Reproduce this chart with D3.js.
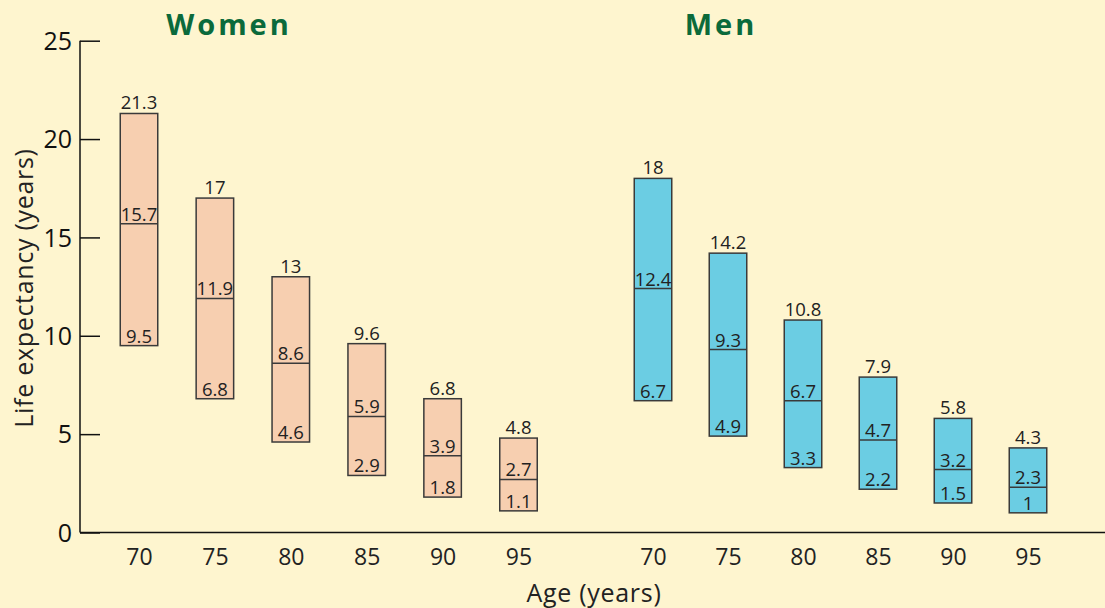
<!DOCTYPE html>
<html><head><meta charset="utf-8">
<script src="https://cdn.jsdelivr.net/npm/d3@7"></script>
<style>
html,body{margin:0;padding:0;background:#fef5cf;}
svg{display:block;font-family:"Open Sans","Noto Sans",sans-serif;}
</style></head>
<body><svg id="c" width="1105" height="608"></svg>
<script>
const ages = ["70","75","80","85","90","95"];
const womenHigh = [21.3, 17, 13, 9.6, 6.8, 4.8];
const womenMid  = [15.7, 11.9, 8.6, 5.9, 3.9, 2.7];
const womenLow  = [9.5, 6.8, 4.6, 2.9, 1.8, 1.1];
const menHigh = [18, 14.2, 10.8, 7.9, 5.8, 4.3];
const menMid  = [12.4, 9.3, 6.7, 4.7, 3.2, 2.3];
const menLow  = [6.7, 4.9, 3.3, 2.2, 1.5, 1];
const yTicks = [0, 5, 10, 15, 20, 25];

const svg = d3.select("#c");
const W = 1105, H = 608;
svg.append("rect").attr("width", W).attr("height", H).attr("fill", "#fef5cf");

const y = d3.scaleLinear().domain([0, 25]).range([532.5, 40.7]);
const xW = d3.scalePoint().domain(ages).range([139, 518.5]);
const xM = d3.scalePoint().domain(ages).range([653, 1028]);
const barW = 37.5;

// axes
const yAxis = d3.axisLeft(y).tickValues(yTicks).tickSizeInner(-20).tickSizeOuter(0).tickPadding(8);
const gy = svg.append("g").attr("transform", "translate(80,0)").call(yAxis);
gy.select(".domain").attr("stroke", "#111").attr("stroke-width", 1.5).attr("d", `M0,${y(25)}V${y(0)}`);
gy.selectAll(".tick line").attr("stroke", "#111").attr("stroke-width", 1.5);
gy.selectAll(".tick text").attr("font-size", 25).attr("fill", "#111").attr("font-family", "Open Sans, Noto Sans, sans-serif").attr("dy", "0.35em");

svg.append("line").attr("x1", 80).attr("x2", W).attr("y1", y(0)).attr("y2", y(0))
  .attr("stroke", "#111").attr("stroke-width", 1.5);

function xTicks(scale) {
  const ax = d3.axisBottom(scale).tickSize(0).tickPadding(16);
  const g = svg.append("g").attr("transform", `translate(0,${y(0)})`).call(ax);
  g.select(".domain").remove();
  g.selectAll(".tick text").attr("font-size", 23).attr("fill", "#222").attr("font-family", "Open Sans, Noto Sans, sans-serif");
}
xTicks(xW); xTicks(xM);

function group(scale, hi, mid, lo, fill) {
  const data = ages.map((a, i) => ({a, hi: hi[i], mid: mid[i], lo: lo[i]}));
  const g = svg.append("g");
  const b = g.selectAll("g").data(data).join("g");
  b.append("rect")
    .attr("x", d => scale(d.a) - barW / 2).attr("width", barW)
    .attr("y", d => y(d.hi)).attr("height", d => y(d.lo) - y(d.hi))
    .attr("fill", fill).attr("stroke", "#3a3a3a").attr("stroke-width", 1.5);
  b.append("line")
    .attr("x1", d => scale(d.a) - barW / 2).attr("x2", d => scale(d.a) + barW / 2)
    .attr("y1", d => y(d.mid)).attr("y2", d => y(d.mid))
    .attr("stroke", "#3a3a3a").attr("stroke-width", 1.5);
  const t = (sel) => sel.attr("text-anchor", "middle").attr("font-size", 18.5).attr("fill", "#222");
  b.append("text").call(t).attr("x", d => scale(d.a)).attr("y", d => y(d.hi) - 4).text(d => d.hi);
  b.append("text").call(t).attr("x", d => scale(d.a)).attr("y", d => y(d.mid) - 3).text(d => d.mid);
  b.append("text").call(t).attr("x", d => scale(d.a)).attr("y", d => y(d.lo) - 3).text(d => d.lo);
}
group(xW, womenHigh, womenMid, womenLow, "#f7cfb0");
group(xM, menHigh, menMid, menLow, "#6bcde3");

// titles
const title = (txt, x) => svg.append("text").attr("x", x).attr("y", 35).attr("text-anchor", "middle")
  .attr("font-size", 29).attr("font-weight", "bold").attr("letter-spacing", 3)
  .attr("fill", "#0b6a3b").attr("font-family", "Open Sans, Noto Sans, sans-serif").text(txt);
title("Women", 229);
title("Men", 721);

svg.append("text").attr("x", 594).attr("y", 602).attr("text-anchor", "middle")
  .attr("font-size", 25).attr("letter-spacing", 0.7).attr("fill", "#222").text("Age (years)");
svg.append("text").attr("transform", "translate(33,288) rotate(-90)").attr("text-anchor", "middle")
  .attr("font-size", 25).attr("letter-spacing", 0.7).attr("fill", "#222").text("Life expectancy (years)");
</script></body></html>
